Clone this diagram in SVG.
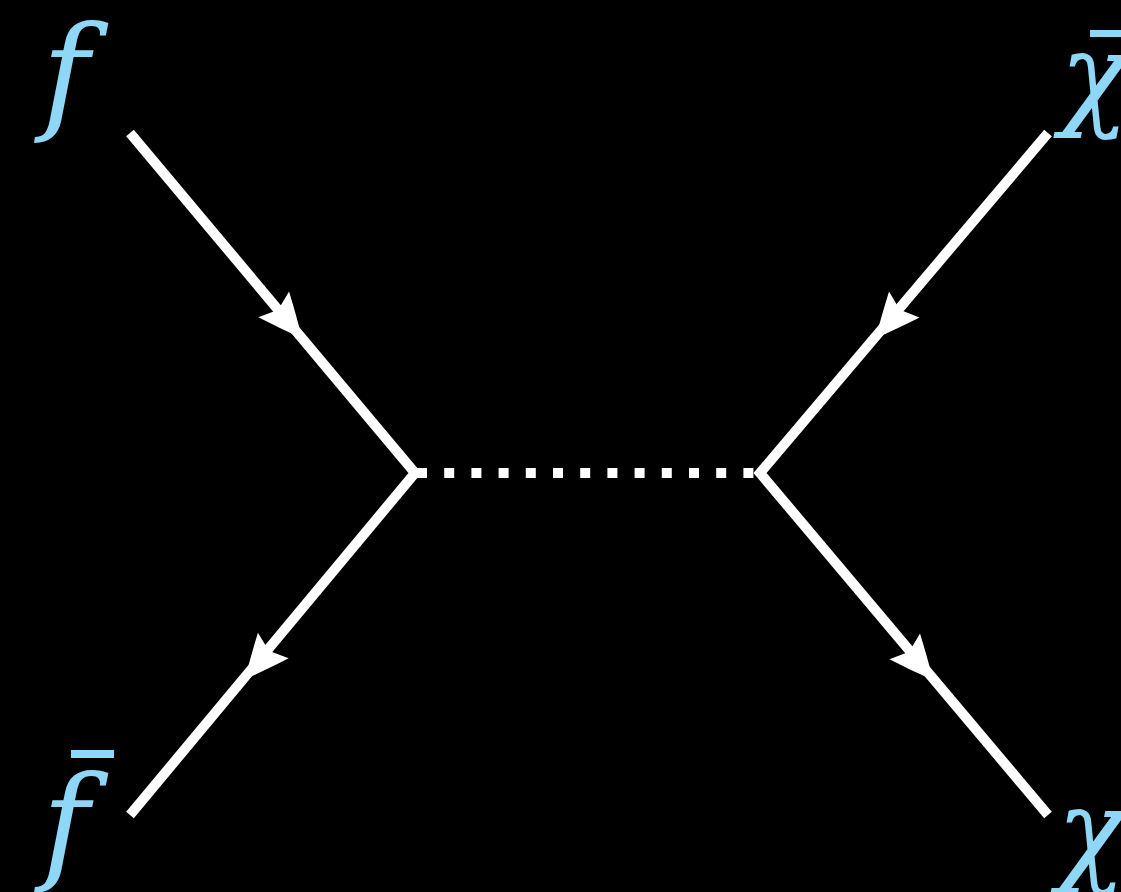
<svg xmlns="http://www.w3.org/2000/svg" width="1121" height="892" viewBox="0 0 1121 892">
<style>
.fermion{fill:none;stroke:#fff;stroke-width:10;stroke-linejoin:miter;stroke-miterlimit:10}
.scalar{fill:none;stroke:#fff;stroke-width:10;stroke-dasharray:10 17.2}
.lbl{font-family:"DejaVu Serif",serif;font-style:italic;font-size:128px;fill:#8fd7f7}
.chi{font-size:114px}
.bar{fill:#8fd7f7}
.arr{fill:#fff}
</style>
<defs>
<path id="ah" d="M42,0 C28,7 12,14 -2,20 L5,0 L-2,-20 C12,-14 28,-7 42,0 Z"/>
</defs>
<rect width="1121" height="892" fill="#000"/>
<g id="connectors">
<polyline class="fermion" points="130,133 415,473 130,815"/>
<polyline class="fermion" points="1048,133 760,473 1048,815"/>
<line class="scalar" x1="417" y1="473" x2="760" y2="473"/>
<use href="#ah" class="arr" transform="translate(275,306) rotate(50.03)"/>
<use href="#ah" class="arr" transform="translate(903,306) rotate(130.27)"/>
<use href="#ah" class="arr" transform="translate(272,647) rotate(129.8)"/>
<use href="#ah" class="arr" transform="translate(906,648) rotate(49.9)"/>
</g>
<g id="f"><text class="lbl" x="42" y="116">f</text></g>
<g id="fbar"><text class="lbl" x="42" y="866">f</text><rect class="bar" x="71" y="750" width="43" height="8"/></g>
<g id="chibar"><text class="lbl chi" x="1060" y="114">χ</text><rect class="bar" x="1090" y="30" width="31" height="7"/></g>
<g id="chi"><text class="lbl chi" x="1057" y="870">χ</text></g>
</svg>
